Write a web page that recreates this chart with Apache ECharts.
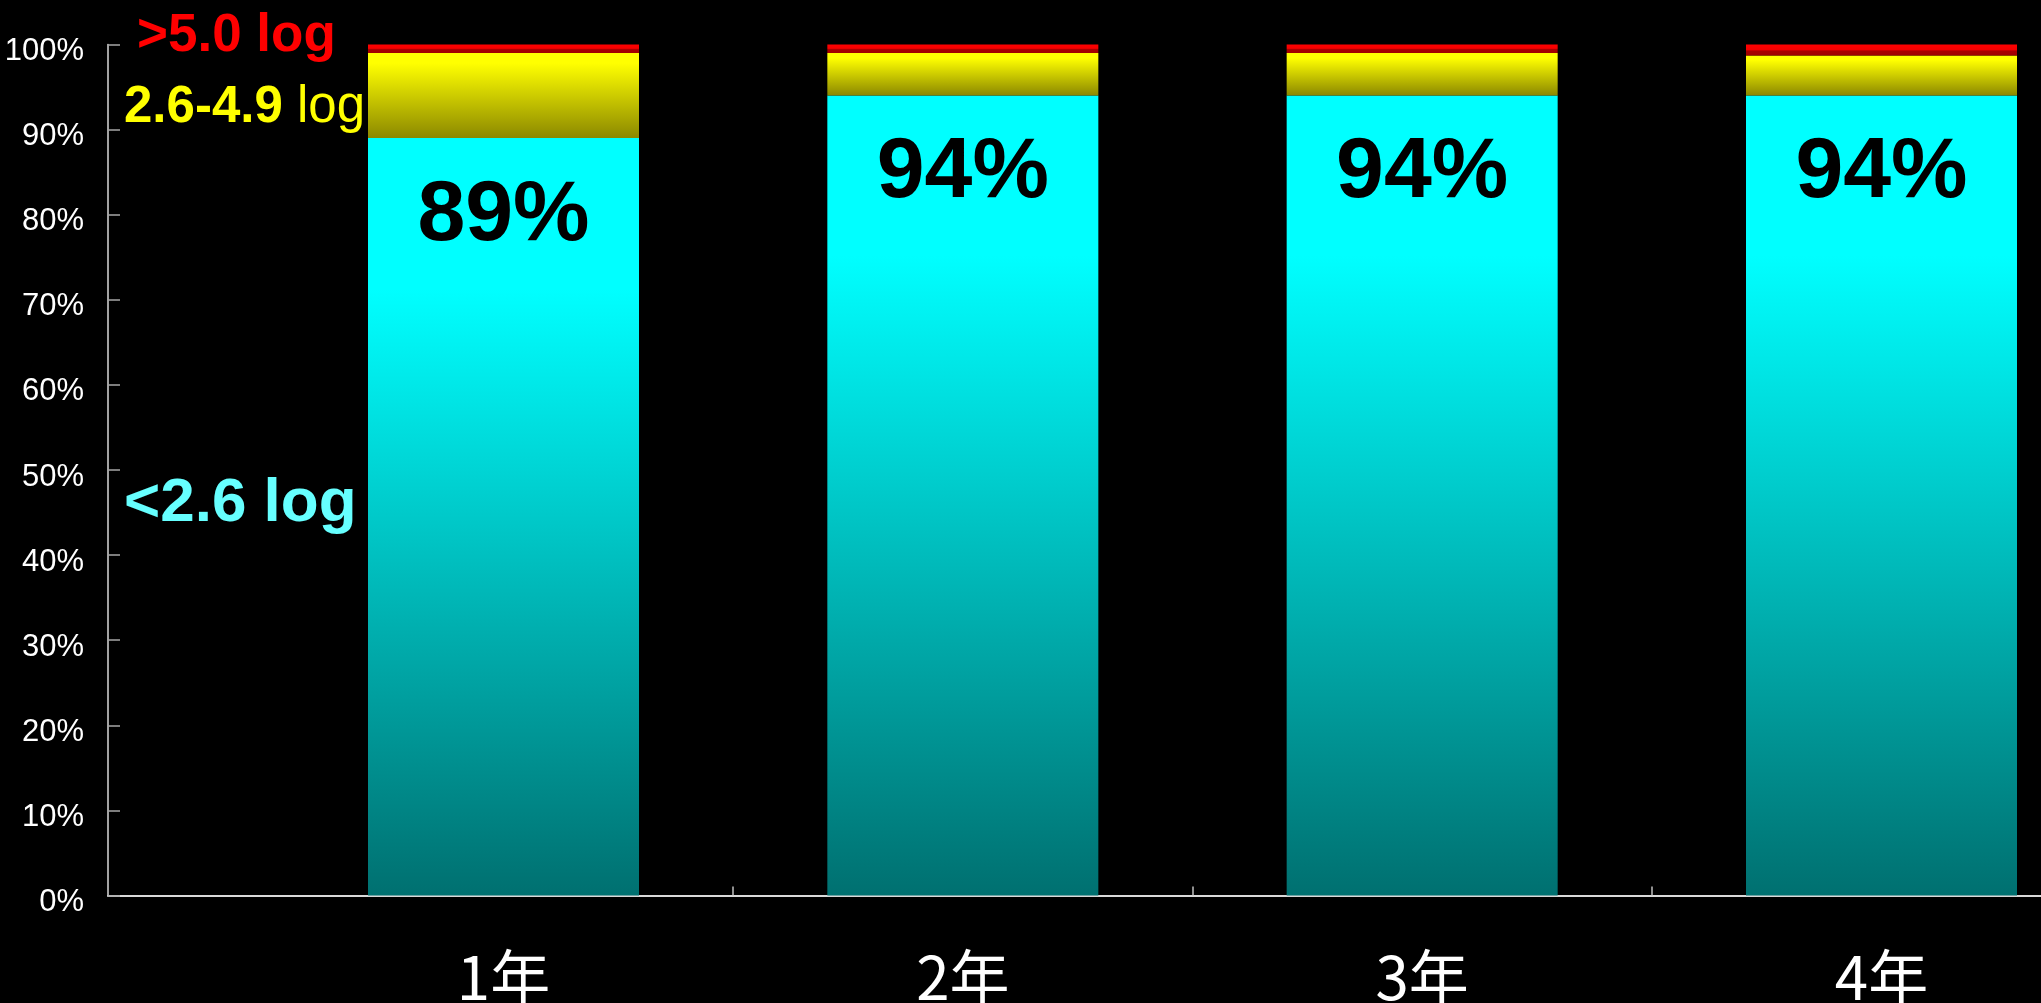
<!DOCTYPE html>
<html>
<head>
<meta charset="utf-8">
<style>
  html, body { margin: 0; padding: 0; background: #000; }
  #chart { width: 2041px; height: 1003px; }
</style>
<script src="https://cdn.jsdelivr.net/npm/echarts@6/dist/echarts.min.js"></script>
</head>
<body>
<div id="chart"></div>
<script>
// Years of follow-up
const categories = ['1年', '2年', '3年', '4年'];
// Share of patients per viral-load band (%)
const lowLoad = [89, 94, 94, 94];      // <2.6 log
const midLoad = [10, 5, 5, 4.7];       // 2.6-4.9 log
const highLoad = [1, 1, 1, 1.3];       // >5.0 log
const yTicks = { min: 0, max: 100, interval: 10 };

// Category boundaries (between neighbouring years) for the baseline tick marks
const boundaries = categories.slice(1).map((_, i) => i + 0.5);

const axisFont = '"Liberation Sans", Arial, sans-serif';
const boldFont = '"Liberation Sans", Arial, sans-serif';

function vGrad(stops) {
  return new echarts.graphic.LinearGradient(0, 0, 0, 1,
    stops.map(([offset, color]) => ({ offset, color })));
}

const chart = echarts.init(document.getElementById('chart'), null, { renderer: 'canvas' });

const plotTop = 44.5;
const plotBottom = 107.5;
// Frame spans the full width; the year columns sit from the first to the last bar centre.
const frameLeft = 108;
const colLeft = 503.5;
const colRight = 2041 - 1881.5;
const bandPx = (1881.5 - 503.5) / (categories.length - 1);
const frameMin = -(colLeft - frameLeft) / bandPx;
const frameMax = frameMin + (2041 - frameLeft) / bandPx;

chart.setOption({
  backgroundColor: '#000',
  animation: false,
  grid: [
    { left: colLeft, right: colRight, top: plotTop, bottom: plotBottom, outerBoundsMode: 'none', containLabel: false },
    { left: frameLeft, right: 0, top: plotTop, bottom: plotBottom, outerBoundsMode: 'none', containLabel: false }
  ],
  xAxis: [
    {
      type: 'category',
      gridIndex: 0,
      data: categories,
      boundaryGap: false,
      axisLine: { show: false },
      axisTick: { show: false },
      axisLabel: {
        color: '#fff',
        fontFamily: '"Noto Sans CJK JP", sans-serif',
        fontSize: 60,
        margin: 52
      },
      splitLine: { show: false }
    },
    {
      type: 'value',
      gridIndex: 1,
      min: frameMin,
      max: frameMax,
      axisLine: { show: true, onZero: false, lineStyle: { color: '#D9D9D9', width: 2 } },
      axisTick: {
        show: true,
        inside: true,
        length: 9,
        customValues: boundaries,
        lineStyle: { color: '#BFBFBF', width: 1.5 }
      },
      axisLabel: { show: false },
      splitLine: { show: false }
    }
  ],
  yAxis: [
    {
      type: 'value',
      gridIndex: 0,
      min: yTicks.min,
      max: yTicks.max,
      interval: yTicks.interval,
      show: false
    },
    {
      type: 'value',
      gridIndex: 1,
      min: yTicks.min,
      max: yTicks.max,
      interval: yTicks.interval,
      axisLine: { show: true, onZero: false, lineStyle: { color: '#D9D9D9', width: 1.5 } },
      axisTick: { show: true, inside: true, length: 12, lineStyle: { color: '#A6A6A6', width: 1.5 } },
      axisLabel: {
        formatter: '{value}%',
        color: '#fff',
        fontFamily: axisFont,
        fontSize: 31,
        margin: 24,
        verticalAlign: 'top',
        lineHeight: 14
      },
      splitLine: { show: false }
    }
  ],
  series: [
    {
      name: '<2.6 log',
      type: 'bar',
      stack: 'load',
      clip: false,
      xAxisIndex: 0,
      yAxisIndex: 0,
      barWidth: 271,
      data: lowLoad,
      itemStyle: {
        color: vGrad([[0, '#00FFFF'], [0.2, '#00FFFF'], [1, '#007070']])
      },
      label: {
        show: true,
        position: 'insideTop',
        distance: 35,
        formatter: '{c}%',
        color: '#000',
        fontFamily: boldFont,
        fontWeight: 'bold',
        fontSize: 86
      }
    },
    {
      name: '2.6-4.9 log',
      type: 'bar',
      stack: 'load',
      clip: false,
      xAxisIndex: 0,
      yAxisIndex: 0,
      barWidth: 271,
      data: midLoad,
      itemStyle: {
        color: vGrad([[0, '#FFFF00'], [0.12, '#FFFF00'], [1, '#8B8800']])
      }
    },
    {
      name: '>5.0 log',
      type: 'bar',
      stack: 'load',
      clip: false,
      xAxisIndex: 0,
      yAxisIndex: 0,
      barWidth: 271,
      data: highLoad,
      itemStyle: {
        color: vGrad([[0, '#FF0000'], [0.45, '#F50000'], [0.6, '#A80000'], [1, '#A00000']])
      }
    }
  ],
  graphic: [
    {
      type: 'text',
      left: 137,
      top: 10,
      style: {
        text: '>5.0 log',
        fill: '#FF0000',
        font: 'bold 53px ' + boldFont
      }
    },
    {
      type: 'text',
      left: 124,
      top: 82,
      style: {
        text: '{b|2.6-4.9}{n| log}',
        rich: {
          b: { fill: '#FFFF00', font: 'bold 51px ' + boldFont },
          n: { fill: '#FFFF00', font: '51px ' + boldFont }
        }
      }
    },
    {
      type: 'text',
      left: 124,
      top: 473,
      style: {
        text: '<2.6 log',
        fill: '#66FFFF',
        font: 'bold 62px ' + boldFont
      }
    }
  ]
});
</script>
</body>
</html>
